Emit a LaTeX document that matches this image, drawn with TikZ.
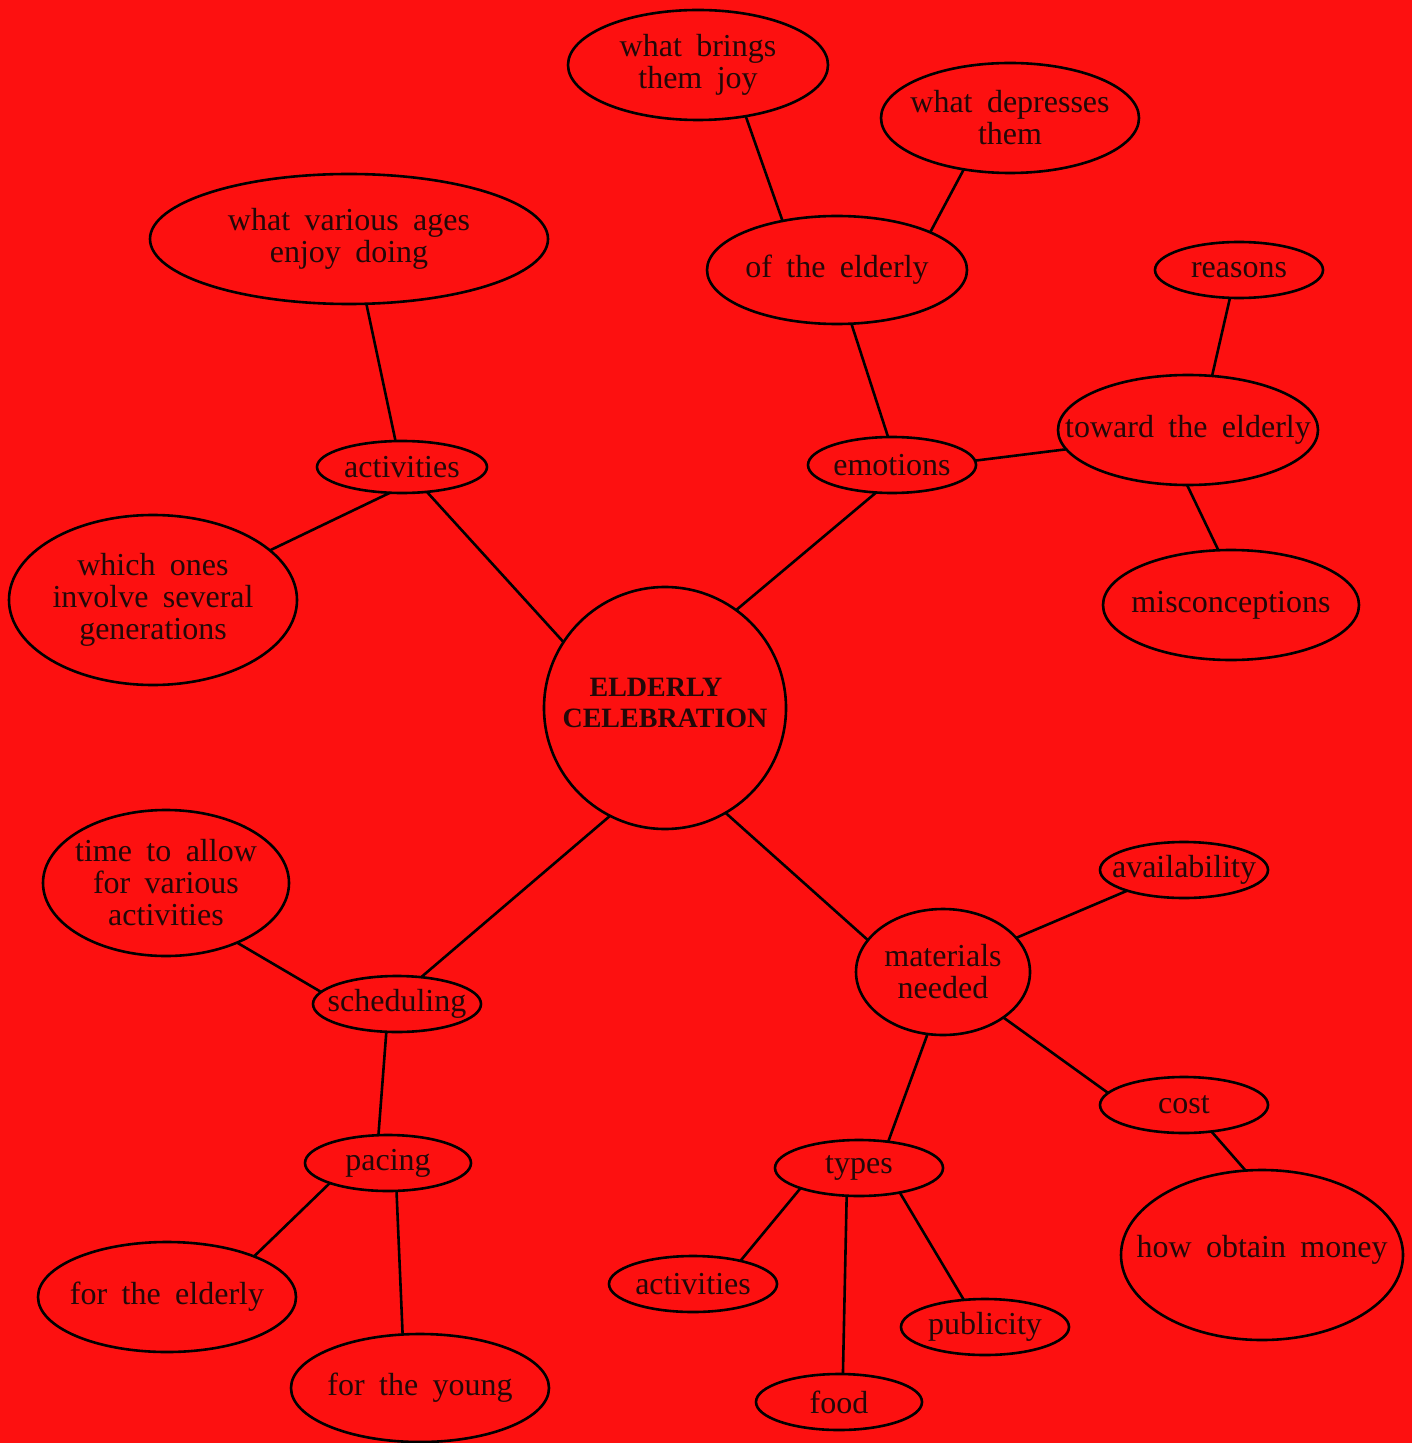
\documentclass[tikz,border=0pt]{standalone}
\usepackage{fontspec}
\setmainfont{Liberation Serif}[WordSpace=1.8]
\usetikzlibrary{shapes.geometric}
\definecolor{paper}{RGB}{253,16,16}
\definecolor{ink}{RGB}{35,8,8}
\tikzset{
  bub/.style 2 args={ellipse,draw=black,line width=1.3pt,inner sep=0pt,outer sep=0pt,
    minimum width=#1*0.5pt,minimum height=#2*0.5pt},
  every label/.style={text=ink,font=\fontsize{16}{16}\selectfont,align=center,inner sep=0pt},
  link/.style={draw=black,line width=1.3pt}
}
\begin{document}
\begin{tikzpicture}[x=0.5pt,y=-0.5pt]
\fill[paper] (0,0) rectangle (1412,1443);
\useasboundingbox (0,0) rectangle (1412,1443);

% hub
\node[bub={242}{242}, label={[font=\bfseries\fontsize{14}{15.5}\selectfont,yshift=2.5pt]center:ELDERLY\hspace*{9pt}\\CELEBRATION}] (C) at (665,708) {};

% main branches
\node[bub={170}{52}, label=center:activities] (act) at (402,467) {};
\node[bub={168}{56}, label=center:emotions] (emo) at (892,465) {};
\node[bub={168}{56}, label=center:scheduling] (sch) at (397,1004) {};
\node[bub={174}{126}, label=center:materials\\needed] (mat) at (943,972) {};

% activities
\node[bub={398}{130}, label=center:what various ages\\enjoy doing] (ages) at (349,239) {};
\node[bub={288}{170}, label=center:which ones\\involve several\\generations] (gen) at (153,600) {};

% emotions
\node[bub={260}{108}, label=center:of the elderly] (ofe) at (837,270) {};
\node[bub={260}{110}, label=center:what brings\\them joy] (joy) at (698,65) {};
\node[bub={258}{110}, label=center:what depresses\\them] (dep) at (1010,118) {};
\node[bub={260}{110}, label=center:toward the elderly] (tow) at (1188,430) {};
\node[bub={168}{56}, label=center:reasons] (rea) at (1239,270) {};
\node[bub={256}{110}, label=center:misconceptions] (mis) at (1231,605) {};

% scheduling
\node[bub={246}{146}, label=center:time to allow\\for various\\activities] (tim) at (166,883) {};
\node[bub={166}{56}, label=center:pacing] (pac) at (388,1163) {};
\node[bub={258}{110}, label=center:for the elderly] (fel) at (167,1297) {};
\node[bub={258}{108}, label=center:for the young] (fyo) at (420,1388) {};

% materials needed
\node[bub={168}{56}, label=center:availability] (ava) at (1184,870) {};
\node[bub={168}{56}, label=center:cost] (cst) at (1184,1105) {};
\node[bub={282}{170}, label={[yshift=2.5pt]center:how obtain money}] (mon) at (1262,1255) {};
\node[bub={168}{56}, label=center:types] (typ) at (859,1168) {};
\node[bub={168}{56}, label=center:activities] (act2) at (693,1284) {};
\node[bub={168}{56}, label=center:publicity] (pub) at (985,1327) {};
\node[bub={166}{56}, label=center:food] (foo) at (839,1402) {};

% connectors
\draw[link] (C.147) -- (act.-45);
\draw[link] (C.54) -- (emo.-120);
\draw[link] (C.-117) -- (sch.48);
\draw[link] (C.-60) -- (mat.157);

\draw[link] (act.104) -- (ages.-75);
\draw[link] (act.-115) -- (gen.23);

\draw[link] (emo.98) -- (ofe.-75);
\draw[link] (emo.3) -- (tow.-171);
\draw[link] (ofe.138) -- (joy.-47);
\draw[link] (ofe.22) -- (dep.-132);
\draw[link] (tow.66) -- (rea.-108);
\draw[link] (tow.-91) -- (mis.103);

\draw[link] (sch.171) -- (tim.-40);
\draw[link] (sch.-111) -- (pac.109);
\draw[link] (pac.-161) -- (fel.25);
\draw[link] (pac.-73) -- (fyo.108);

\draw[link] (mat.25) -- (ava.-160);
\draw[link] (mat.-37) -- (cst.171);
\draw[link] (mat.-104) -- (typ.42);
\draw[link] (cst.-44) -- (mon.101);
\draw[link] (typ.-161) -- (act2.26);
\draw[link] (typ.-114) -- (foo.82);
\draw[link] (typ.-31) -- (pub.128);
\end{tikzpicture}
\end{document}
